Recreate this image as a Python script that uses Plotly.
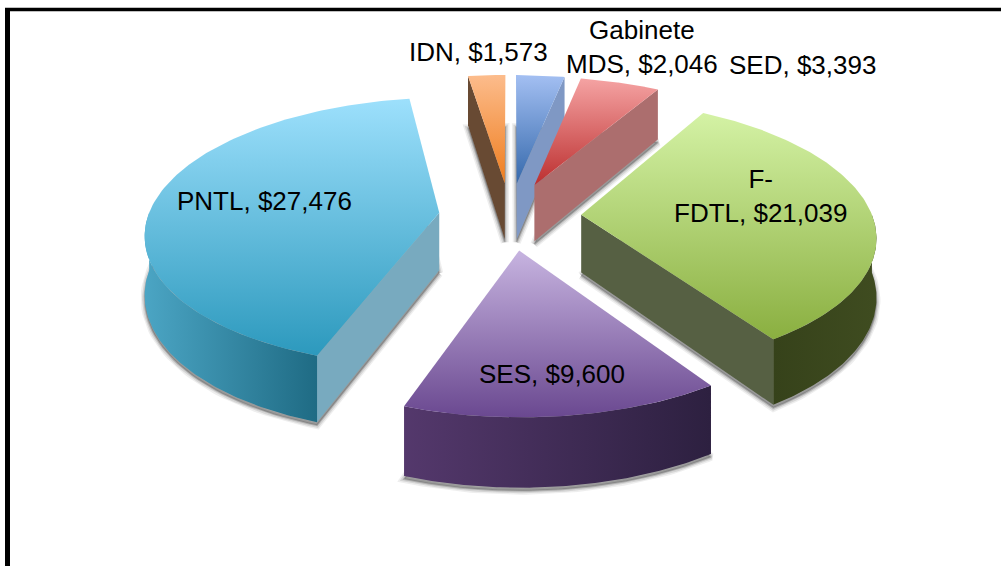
import numpy as np
import plotly.graph_objects as go

categories = ["IDN", "Gabinete<br>MDS", "SED", "F-<br>FDTL", "SES", "PNTL"]
values = [1573, 2046, 3393, 21039, 9600, 27476]

# (far edge of the slice, near edge of the slice)
top_colors = [("#FCBC8C", "#EF7D1E"), ("#A3BFF2", "#3569AC"), ("#F5A3A3", "#BC2F2F"),
              ("#D4F2A5", "#8AAF40"), ("#C7B4E0", "#6A4890"), ("#9DE0FC", "#2C99BD")]
rim_colors = [("#684A33", "#684A33"), ("#7F98C4", "#7F98C4"), ("#AC6E6E", "#AC6E6E"),
              ("#36421A", "#3F4C20"), ("#54386C", "#2D2040"), ("#4BA5C4", "#1F6B84")]
cut_colors = ["#684A33", "#7F98C4", "#AC6E6E", "#566043", "#3D2C55", "#78AABF"]
label_xy = [(478, 52), (642, 47), (802, 65), (760, 196), (552, 374), (264, 201)]

# projection of the pie plane onto the picture (perspective, horizon above the page)
XV, YH = 510.0, -717.0
RX, RZ, CZ = 0.312, 0.152, 1.072
EXPLODE_X, EXPLODE_Z, THICK = 0.245, 0.255, 0.062
START = -np.degrees(2 * np.pi * values[0] / sum(values))


def project(theta, r, ox, oz, depth=0.0):
    z = CZ + oz + RZ * r * np.cos(theta)
    x = ox + RX * r * np.sin(theta)
    k = 1000.0 / z
    return XV + k * x, YH + k + depth * k


fig = go.Figure()


def polygon(px, py, fill=None, grad=None, line=None):
    kw = dict(x=np.round(px, 2).tolist(), y=np.round(py, 2).tolist(), mode="lines",
              fill="toself", hoverinfo="skip", showlegend=False,
              line=dict(width=0, color="rgba(0,0,0,0)") if line is None else line)
    if grad is not None:
        kw["fillgradient"] = dict(type=grad[0], colorscale=[[0, grad[1]], [1, grad[2]]])
    else:
        kw["fillcolor"] = fill
    fig.add_trace(go.Scatter(**kw))


total = sum(values)
bounds = np.radians(START + np.cumsum([0] + values) / total * 360.0)
slices = []
for i in range(len(values)):
    a0, a1 = bounds[i], bounds[i + 1]
    mid = (a0 + a1) / 2
    ox = EXPLODE_X * RX * np.sin(mid)
    oz = EXPLODE_Z * RZ * np.cos(mid)
    slices.append((a0, a1, ox, oz))

# soft shadow under every slice
for a0, a1, ox, oz in slices:
    t = np.linspace(a0, a1, 90)
    bx, by = project(t, 1.0, ox, oz, THICK)
    ax, ay = project(a0, 0.0, ox, oz, THICK)
    px = np.r_[ax, bx, ax]
    py = np.r_[ay, by, ay] + 3
    for w, alpha in [(8, 0.10), (5, 0.16), (2, 0.30)]:
        polygon(px, py, fill="rgba(90,90,90,%.2f)" % alpha,
                line=dict(width=w, color="rgba(90,90,90,%.2f)" % alpha))

for i, (a0, a1, ox, oz) in enumerate(slices):
    # straight cut faces, kept only where they face the viewer
    for a, sign in [(a0, 1), (a1, -1)]:
        x1, y1 = project(a, 1.0, ox, oz)
        x2, y2 = project(a, 1.0, ox, oz, THICK)
        x3, y3 = project(a, 0.0, ox, oz, THICK)
        x4, y4 = project(a, 0.0, ox, oz)
        px = np.array([x1, x2, x3, x4, x1])
        py = np.array([y1, y2, y3, y4, y1])
        area = 0.5 * np.sum(px[:-1] * py[1:] - px[1:] * py[:-1])
        if area * sign < 0:
            polygon(px, py, fill=cut_colors[i])
    # curved outer wall on the near half
    lo, hi = max(a0, np.pi / 2), min(a1, 3 * np.pi / 2)
    if hi > lo:
        t = np.linspace(lo, hi, 90)
        tx, ty = project(t, 1.0, ox, oz)
        bx, by = project(t, 1.0, ox, oz, THICK)
        px = np.r_[tx, bx[::-1], tx[0]]
        py = np.r_[ty, by[::-1], ty[0]]
        polygon(px, py, grad=("horizontal", rim_colors[i][0], rim_colors[i][1]))
    # top face: the gradient scale runs from the largest y value to the smallest here
    t = np.linspace(a0, a1, 120)
    tx, ty = project(t, 1.0, ox, oz)
    ax, ay = project(a0, 0.0, ox, oz)
    polygon(np.r_[ax, tx, ax], np.r_[ay, ty, ay], grad=("vertical", top_colors[i][1], top_colors[i][0]))

annotations = [
    dict(x=lx, y=ly, xref="x", yref="y", text=f"{c}, ${v:,}", showarrow=False,
         xanchor="center", yanchor="middle", align="center",
         font=dict(family="Liberation Sans", size=26, color="#000000"))
    for c, v, (lx, ly) in zip(categories, values, label_xy)
]

fig.update_layout(
    width=1001, height=566, autosize=False,
    margin=dict(l=0, r=0, t=0, b=0),
    paper_bgcolor="#FFFFFF", plot_bgcolor="#FFFFFF",
    showlegend=False,
    xaxis=dict(range=[0, 1001], visible=False, fixedrange=True),
    yaxis=dict(range=[566, 0], visible=False, fixedrange=True),
    annotations=annotations,
    shapes=[
        dict(type="line", xref="x", yref="y", x0=5, x1=1001, y0=9.5, y1=9.5,
             line=dict(color="#000000", width=3.5)),
        dict(type="line", xref="x", yref="y", x0=7.5, x1=7.5, y0=8, y1=566,
             line=dict(color="#000000", width=5)),
    ],
)
fig.write_html("out.html", config=dict(displayModeBar=False),
               post_script="document.body.style.margin='0';document.body.style.overflow='hidden';")
